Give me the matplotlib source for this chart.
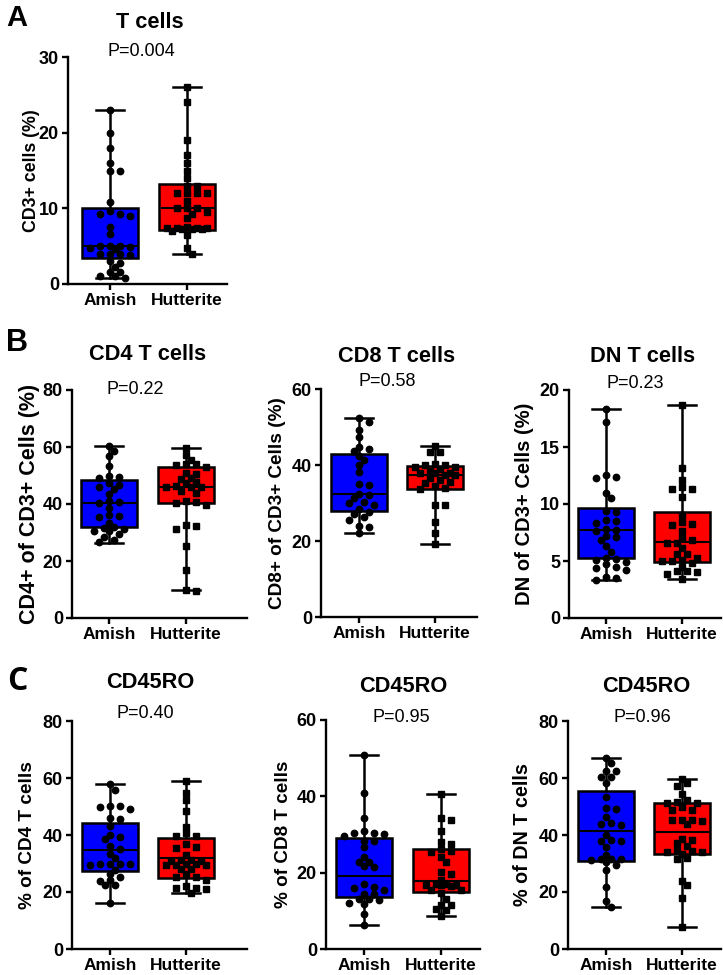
import numpy as np
import matplotlib.pyplot as plt

plt.rcParams['font.family'] = ['Liberation Sans', 'DejaVu Sans']

W, H = 723, 975  # output size in px
groups = ['Amish', 'Hutterite']

# ---- values ----
# box stats: [whisker low, q1, median, q3, whisker high]
tcell_box_amish = [0.8, 3.4, 5.0, 10.1, 23.0]
tcell_box_hutt = [3.9, 7.1, 10.0, 13.15, 26.0]
tcell_amish = [23, 20, 18, 16, 15, 15, 10.9, 9.6, 9.3, 9.0, 9.2, 7.5, 6.6, 5.0, 5.0, 4.9,
               5.0, 4.8, 4.6, 4.0, 3.9, 3.8, 4.0, 3.0, 2.8, 2.2, 1.6, 1.6, 1.1, 1.0, 0.8]
tcell_hutt = [26, 24, 19, 17, 16, 15, 14, 13, 13, 12, 12, 12, 12, 11, 10, 10, 10, 9.5, 9.3,
              8.7, 7.5, 7.4, 7.4, 7.4, 7.3, 7.3, 7.3, 7.4, 7.0, 6.5, 4.8, 4.0]

cd4_box_amish = [26.3, 31.9, 40.5, 48.5, 60.4]
cd4_box_hutt = [9.7, 40.5, 45.8, 52.9, 59.7]
cd4_amish = [60.4, 58.5, 57.0, 53.5, 50.0, 49.4, 49.0, 47.3, 46.7, 46.0, 45.2, 43.6, 41.0,
             40.6, 40.4, 38.5, 36.0, 35.6, 35.8, 33.3, 31.8, 31.5, 31.2, 30.6, 30.5, 29.6,
             28.5, 27.4, 26.5]
cd4_hutt = [59.7, 57.3, 55.5, 54.1, 54.0, 53.8, 53.0, 50.8, 50.5, 49.0, 48.6, 47.6, 47.2,
            46.1, 46.0, 46.2, 45.9, 44.6, 43.8, 40.9, 40.8, 40.5, 39.5, 32.5, 32.4, 31.2,
            25.1, 16.7, 9.7, 9.6]

cd8_box_amish = [22.2, 27.9, 32.3, 43.0, 52.4]
cd8_box_hutt = [19.2, 33.6, 37.5, 39.8, 45.0]
cd8_amish = [52.4, 51.4, 49.2, 47.3, 44.8, 44.2, 43.6, 42.4, 41.3, 40.0, 38.2, 35.0, 34.8,
             32.5, 32.0, 31.2, 30.3, 30.0, 29.6, 28.5, 27.7, 27.1, 26.4, 25.6, 23.9, 23.7, 22.2]
cd8_hutt = [45.0, 43.5, 43.3, 40.3, 40.0, 39.9, 39.5, 39.4, 39.0, 38.5, 38.0, 37.9, 37.9,
            37.5, 37.3, 36.5, 36.0, 35.6, 35.2, 34.5, 34.0, 33.6, 29.6, 29.4, 25.0, 22.0, 19.2]

dn_box_amish = [3.3, 5.23, 7.68, 9.63, 18.3]
dn_box_hutt = [3.4, 4.9, 6.7, 9.28, 18.7]
dn_amish = [18.3, 17.2, 12.55, 12.35, 12.3, 11.0, 10.5, 9.4, 9.3, 8.6, 8.5, 8.3, 7.8, 7.7,
            7.6, 7.2, 7.1, 6.8, 6.3, 5.8, 5.3, 5.2, 5.1, 4.9, 4.7, 4.5, 4.4, 4.2, 3.6, 3.5, 3.3]
dn_hutt = [18.7, 13.2, 12.1, 11.5, 11.3, 11.3, 10.6, 9.05, 8.4, 8.25, 8.2, 7.6, 7.0, 6.8,
           6.6, 6.6, 6.1, 5.6, 5.6, 5.3, 5.0, 5.0, 5.1, 4.8, 4.5, 4.1, 4.0, 4.1, 3.9, 3.4]

ro4_box_amish = [16.3, 27.5, 34.8, 44.1, 57.8]
ro4_box_hutt = [19.8, 24.8, 31.8, 38.8, 58.9]
ro4_amish = [57.8, 55.7, 50.3, 50.0, 50.2, 49.0, 45.8, 45.6, 43.3, 40.0, 39.4, 38.5, 36.2,
             35.0, 33.4, 31.8, 29.7, 29.7, 29.6, 29.8, 29.7, 27.8, 26.4, 25.4, 24.0, 24.1,
             22.5, 22.4, 16.3]
ro4_hutt = [58.9, 54.6, 52.2, 48.5, 42.9, 40.6, 39.7, 39.5, 36.7, 35.7, 35.6, 33.0, 31.2,
            31.0, 31.1, 30.8, 29.7, 29.8, 29.5, 29.4, 29.5, 28.0, 28.1, 26.4, 25.2, 25.1,
            24.3, 22.0, 21.5, 21.3, 21.0, 19.8]

ro8_box_amish = [6.2, 13.6, 19.2, 29.0, 50.7]
ro8_box_hutt = [8.7, 14.9, 17.9, 26.2, 40.6]
ro8_amish = [50.7, 40.8, 34.4, 30.8, 30.4, 30.1, 30.5, 29.7, 28.4, 28.2, 26.7, 24.2, 22.9,
             22.8, 21.6, 21.7, 17.0, 16.2, 16.1, 15.5, 14.4, 14.5, 13.0, 13.1, 12.9, 11.9,
             12.0, 9.2, 6.2]
ro8_hutt = [40.6, 34.3, 33.8, 31.0, 28.0, 27.5, 26.2, 25.6, 25.3, 24.2, 22.7, 20.3, 19.6,
            18.1, 16.8, 16.9, 16.7, 16.8, 16.6, 16.9, 15.4, 15.5, 14.6, 13.1, 11.6, 11.4,
            10.5, 10.3, 8.7]

rodn_box_amish = [14.7, 31.0, 41.5, 55.5, 67.1]
rodn_box_hutt = [7.7, 33.4, 40.9, 51.1, 59.5]
rodn_amish = [67.1, 65.3, 62.5, 62.3, 60.4, 60.5, 58.1, 53.2, 49.3, 49.1, 46.2, 44.1, 44.0,
              43.5, 40.0, 38.0, 38.1, 37.9, 35.9, 33.0, 31.5, 31.6, 31.4, 31.5, 30.4, 29.5,
              27.8, 21.9, 16.9, 14.7]
rodn_hutt = [59.5, 58.1, 57.1, 54.3, 52.3, 51.7, 51.3, 51.2, 49.7, 48.8, 48.9, 45.2, 45.3,
             45.1, 45.0, 43.8, 38.3, 38.5, 37.1, 36.0, 34.8, 34.2, 34.1, 34.3, 33.4, 31.8,
             31.7, 23.9, 22.3, 17.8, 7.7]

# layout, px: (left, right, top, bottom, x of Amish, x of Hutterite)
panels = [
    dict(pos=(68, 227, 57, 284, 110, 187), ymax=30, step=10,
         data=(tcell_amish, tcell_hutt), box=(tcell_box_amish, tcell_box_hutt),
         ylabel='CD3+ cells (%)', ylx=31, ylfs=12.8,
         title='T cells', tpos=(150, 22), ptext='P=0.004', ppos=(141, 52)),
    dict(pos=(72, 247, 390, 618, 109, 186), ymax=80, step=20,
         data=(cd4_amish, cd4_hutt), box=(cd4_box_amish, cd4_box_hutt),
         ylabel='CD4+ of CD3+ Cells (%)', ylx=30, ylfs=15.5,
         title='CD4 T cells', tpos=(148, 355), ptext='P=0.22', ppos=(135, 390)),
    dict(pos=(321, 477, 389, 617, 359, 435), ymax=60, step=20,
         data=(cd8_amish, cd8_hutt), box=(cd8_box_amish, cd8_box_hutt),
         ylabel='CD8+ of CD3+ Cells (%)', ylx=277, ylfs=13.7,
         title='CD8 T cells', tpos=(397, 356), ptext='P=0.58', ppos=(387, 382)),
    dict(pos=(569, 721, 390, 618, 606, 682), ymax=20, step=5,
         data=(dn_amish, dn_hutt), box=(dn_box_amish, dn_box_hutt),
         ylabel='DN of CD3+ Cells (%)', ylx=525, ylfs=14.5,
         title='DN T cells', tpos=(643, 356), ptext='P=0.23', ppos=(635, 383)),
    dict(pos=(72, 247, 721, 949, 110, 186), ymax=80, step=20,
         data=(ro4_amish, ro4_hutt), box=(ro4_box_amish, ro4_box_hutt),
         ylabel='% of CD4 T cells', ylx=28, ylfs=13.7,
         title='CD45RO', tpos=(150, 682), ptext='P=0.40', ppos=(145, 713)),
    dict(pos=(326, 480, 720, 949, 364, 441), ymax=60, step=20,
         data=(ro8_amish, ro8_hutt), box=(ro8_box_amish, ro8_box_hutt),
         ylabel='% of CD8 T cells', ylx=283, ylfs=13.6,
         title='CD45RO', tpos=(403, 687), ptext='P=0.95', ppos=(401, 717)),
    dict(pos=(568, 721, 721, 949, 606, 682), ymax=80, step=20,
         data=(rodn_amish, rodn_hutt), box=(rodn_box_amish, rodn_box_hutt),
         ylabel='% of DN T cells', ylx=523, ylfs=14.2,
         title='CD45RO', tpos=(646, 687), ptext='P=0.96', ppos=(642, 717)),
]
colors = ['#0000FF', '#FF0000']
markers = ['o', 's']


def swarm(vals, ypx, xpx, d=6.4, maxoff=24):
    """simple beeswarm: offsets in data units, kept inside the box"""
    vals = np.asarray(vals, float)
    xs = np.zeros(len(vals))
    placed = []
    step = d * 0.8
    cands = [0]
    k = 1
    while k * step <= maxoff:
        cands += [k * step, -k * step]
        k += 1
    for i in np.argsort(vals)[::-1]:
        y = vals[i] * ypx
        best, best_gap = 0, -1
        for x in cands:
            gap = min([np.hypot(x - px, y - py) for px, py in placed] + [99])
            if gap >= d:
                best = x
                break
            if gap > best_gap:
                best, best_gap = x, gap
        placed.append((best, y))
        xs[i] = best / xpx
    return xs


def fx(x):
    return x / W


def fy(y):
    return 1 - y / H


fig = plt.figure(figsize=(W / 100, H / 100), dpi=100)

for p in panels:
    l, r, t, b, xa, xh = p['pos']
    unit = xh - xa
    ax = fig.add_axes([fx(l), fy(b), (r - l) / W, (b - t) / H])
    ax.set_xlim((l - xa) / unit, (r - xa) / unit)
    ax.set_ylim(0, p['ymax'])
    ypx = (b - t) / p['ymax']

    stats = []
    for s in p['box']:
        stats.append(dict(whislo=s[0], q1=s[1], med=s[2], q3=s[3], whishi=s[4], fliers=[]))
    bp = ax.bxp(stats, positions=[0, 1], widths=0.73, capwidths=0.36, patch_artist=True,
                showfliers=False,
                boxprops=dict(edgecolor='black', linewidth=1.8),
                whiskerprops=dict(color='black', linewidth=1.8),
                capprops=dict(color='black', linewidth=1.8),
                medianprops=dict(color='black', linewidth=1.5))
    for patch, c in zip(bp['boxes'], colors):
        patch.set_facecolor(c)
    for art in bp['whiskers'] + bp['caps']:
        art.set_zorder(1)

    for g, vals in enumerate(p['data']):
        xs = g + swarm(vals, ypx, unit)
        ax.plot(xs, vals, linestyle='none', marker=markers[g], color='black',
                ms=4.6 if g == 0 else 4.2, zorder=4, clip_on=False)

    ax.set_xticks([0, 1])
    ax.set_xticklabels(groups, fontsize=12.5, fontweight='bold')
    ax.set_yticks(np.arange(0, p['ymax'] + 0.1, p['step']))
    ax.set_yticklabels([str(int(v)) for v in ax.get_yticks()], fontsize=13, fontweight='bold')
    for side in ['top', 'right']:
        ax.spines[side].set_visible(False)
    for side in ['left', 'bottom']:
        ax.spines[side].set_linewidth(1.7)
    ax.tick_params(direction='out', length=4.5, width=1.7, pad=2)

    fig.text(fx(p['ylx']), fy((t + b) / 2), p['ylabel'], rotation=90, ha='center',
             va='center', fontsize=p['ylfs'], fontweight='bold')
    fig.text(fx(p['tpos'][0]), fy(p['tpos'][1]), p['title'], ha='center', va='center',
             fontsize=15.7, fontweight='bold')
    fig.text(fx(p['ppos'][0]), fy(p['ppos'][1]), p['ptext'], ha='center', va='center',
             fontsize=13)

fig.text(fx(17), fy(18), 'A', ha='center', va='center', fontsize=21, fontweight='bold')
fig.text(fx(17), fy(343), 'B', ha='center', va='center', fontsize=22, fontweight='bold')
fig.text(fx(17), fy(682), 'C', ha='center', va='center', fontsize=23, fontweight='bold',
         family=['Open Sans', 'DejaVu Sans'])

fig.savefig('out.png', dpi=100)
